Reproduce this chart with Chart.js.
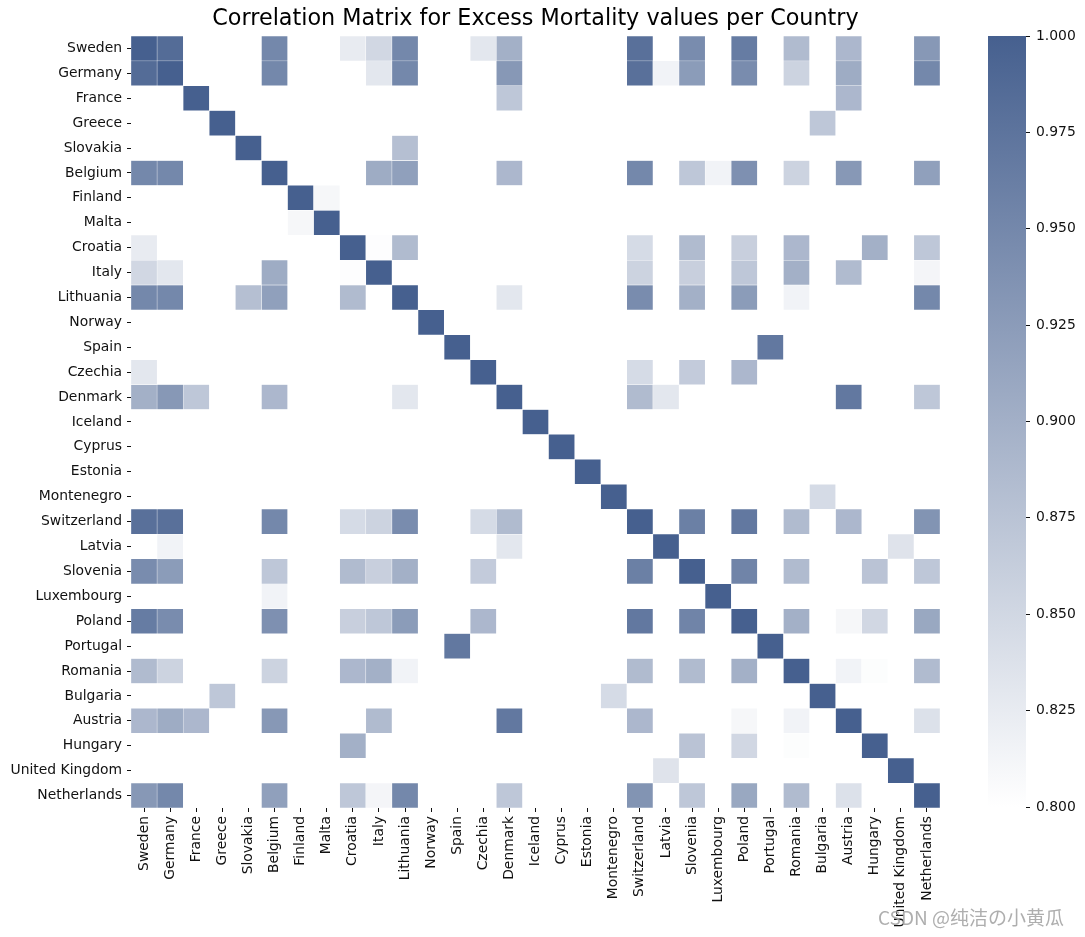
<!DOCTYPE html>
<html>
<head>
<meta charset="utf-8">
<script src="https://cdn.jsdelivr.net/npm/chart.js@4/dist/chart.umd.min.js"></script>
<style>
  html, body { margin: 0; padding: 0; background: #fff; }
  #wrap { position: relative; width: 1085px; height: 937px; overflow: hidden; }
  #heat { position: absolute; left: 0; top: 0; }
  #cbar { position: absolute; left: 960px; top: 0; }
  #wm { position: absolute; left: 878px; top: 903px; font-family: "Noto Sans CJK SC", "DejaVu Sans", sans-serif;
        font-size: 19px; color: rgba(165,165,165,0.9); white-space: nowrap; }
</style>
</head>
<body>
<div id="wrap">
  <canvas id="heat" width="1085" height="937"></canvas>
  <canvas id="cbar" width="125" height="937"></canvas>
  <div id="wm">CSDN @纯洁の小黄瓜</div>
</div>
<script>
// ---- data ----
const countries = ["Sweden","Germany","France","Greece","Slovakia","Belgium","Finland","Malta","Croatia","Italy",
  "Lithuania","Norway","Spain","Czechia","Denmark","Iceland","Cyprus","Estonia","Montenegro","Switzerland",
  "Latvia","Slovenia","Luxembourg","Poland","Portugal","Romania","Bulgaria","Austria","Hungary","United Kingdom","Netherlands"];

// correlations >= 0.8 (upper triangle, [row, col, value]); all other off-diagonal pairs are masked (< 0.8)
const corrPairs = [
  [0,1,0.985],[0,5,0.95],[0,8,0.825],[0,9,0.85],[0,10,0.95],[0,13,0.83],[0,14,0.9],[0,19,0.98],[0,21,0.945],[0,23,0.965],[0,25,0.885],[0,27,0.89],[0,30,0.93],
  [1,5,0.95],[1,9,0.83],[1,10,0.95],[1,14,0.93],[1,19,0.98],[1,20,0.815],[1,21,0.925],[1,23,0.945],[1,25,0.855],[1,27,0.905],[1,30,0.95],
  [2,14,0.87],[2,27,0.89],
  [3,26,0.87],
  [4,10,0.88],
  [5,9,0.905],[5,10,0.92],[5,14,0.89],[5,19,0.95],[5,21,0.87],[5,22,0.815],[5,23,0.94],[5,25,0.855],[5,27,0.93],[5,30,0.92],
  [6,7,0.81],
  [8,9,0.802],[8,10,0.885],[8,19,0.845],[8,21,0.885],[8,23,0.86],[8,25,0.89],[8,28,0.9],[8,30,0.87],
  [9,19,0.855],[9,21,0.86],[9,23,0.87],[9,25,0.9],[9,27,0.885],[9,30,0.812],
  [10,14,0.83],[10,19,0.945],[10,21,0.9],[10,23,0.925],[10,25,0.815],[10,30,0.95],
  [12,24,0.97],
  [13,19,0.845],[13,21,0.865],[13,23,0.89],
  [14,19,0.885],[14,20,0.83],[14,27,0.97],[14,30,0.87],
  [18,26,0.845],
  [19,21,0.96],[19,23,0.97],[19,25,0.885],[19,27,0.89],[19,30,0.935],
  [20,29,0.835],
  [21,23,0.955],[21,25,0.885],[21,28,0.875],[21,30,0.87],
  [23,25,0.9],[23,27,0.81],[23,28,0.85],[23,30,0.91],
  [25,27,0.815],[25,28,0.803],[25,30,0.885],
  [27,30,0.838]
];
const diagValue = 1.0;
const scaleMin = 0.8, scaleMax = 1.0;
const colorbarTicks = [0.8, 0.825, 0.85, 0.875, 0.9, 0.925, 0.95, 0.975, 1.0];

// ---- build matrix ----
const N = countries.length;
const M = Array.from({length: N}, () => Array(N).fill(null));
for (let i = 0; i < N; i++) M[i][i] = diagValue;
corrPairs.forEach(([i, j, v]) => { M[i][j] = v; M[j][i] = v; });

const DARK = [70, 96, 143];
function colorFor(v) {
  if (v == null) return 'rgba(0,0,0,0)';
  let t = (v - scaleMin) / (scaleMax - scaleMin);
  t = Math.max(0, Math.min(1, t));
  const c = DARK.map(d => Math.round(255 + (d - 255) * t));
  return `rgb(${c[0]},${c[1]},${c[2]})`;
}

Chart.defaults.font.family = "'DejaVu Sans', sans-serif";
Chart.defaults.font.size = 13.9;
Chart.defaults.color = '#111';

const datasets = countries.map((rowName, r) => ({
  label: rowName,
  data: countries.map((_, c) => M[r][c] == null ? null : [r, r + 1]),
  backgroundColor: countries.map((_, c) => colorFor(M[r][c])),
  borderColor: '#ffffff',
  borderWidth: 0.5,
  borderSkipped: false,
  barPercentage: 1.0,
  categoryPercentage: 1.0,
  grouped: false
}));

new Chart(document.getElementById('heat'), {
  type: 'bar',
  data: { labels: countries, datasets },
  options: {
    responsive: false,
    animation: false,
    layout: { padding: { left: 0, right: 145, top: 0, bottom: 0 } },
    plugins: {
      legend: { display: false },
      tooltip: { enabled: false },
      title: {
        display: true,
        text: 'Correlation Matrix for Excess Mortality values per Country',
        fullSize: false,
        color: '#000',
        font: { size: 22.3, weight: 'normal' },
        padding: { top: 6, bottom: 3.2 }
      }
    },
    scales: {
      x: {
        type: 'category',
        offset: true,
        grid: { display: true, drawOnChartArea: false, offset: false, tickLength: 4, tickColor: '#111' },
        border: { display: false },
        ticks: { autoSkip: false, maxRotation: 90, minRotation: 90, padding: 4 },
        afterFit: (s) => { s.height = 129; }
      },
      y: {
        type: 'linear',
        min: 0, max: N,
        reverse: true,
        grid: { display: true, drawOnChartArea: false, tickLength: 4, tickColor: '#111' },
        border: { display: false },
        afterBuildTicks: (axis) => { axis.ticks = countries.map((_, i) => ({ value: i + 0.5 })); },
        ticks: { autoSkip: false, padding: 5, callback: (v) => countries[Math.floor(v)] },
        afterFit: (s) => { s.width = 131; }
      }
    }
  }
});

new Chart(document.getElementById('cbar'), {
  type: 'bar',
  data: {
    labels: ['colorbar'],
    datasets: [{
      data: [[scaleMin, scaleMax]],
      barPercentage: 1.0,
      categoryPercentage: 1.0,
      borderWidth: 0,
      backgroundColor: (ctx) => {
        const chart = ctx.chart, a = chart.chartArea;
        if (!a) return colorFor(scaleMax);
        const g = chart.ctx.createLinearGradient(0, a.bottom, 0, a.top);
        g.addColorStop(0, colorFor(scaleMin));
        g.addColorStop(1, colorFor(scaleMax));
        return g;
      }
    }]
  },
  options: {
    responsive: false,
    animation: false,
    layout: { padding: { left: 28, right: 0, top: 36, bottom: 130 } },
    plugins: { legend: { display: false }, tooltip: { enabled: false }, title: { display: false } },
    scales: {
      x: { display: false },
      y: {
        position: 'right',
        min: scaleMin, max: scaleMax,
        grid: { display: true, drawOnChartArea: false, tickLength: 4, tickColor: '#111' },
        border: { display: false },
        afterBuildTicks: (axis) => { axis.ticks = colorbarTicks.map(v => ({ value: v })); },
        ticks: { padding: 6, callback: (v) => Number(v).toFixed(3) },
        afterFit: (s) => { s.width = 59; }
      }
    }
  }
});
</script>
</body>
</html>
